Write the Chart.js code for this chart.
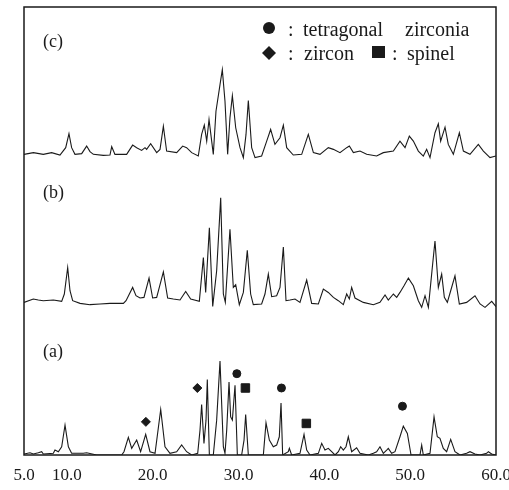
<!DOCTYPE html>
<html>
<head>
<meta charset="utf-8">
<script src="https://cdn.jsdelivr.net/npm/chart.js@4.4.1/dist/chart.umd.min.js"></script>
<style>
  html, body { margin: 0; padding: 0; background: #fff; }
  #wrap { width: 509px; height: 490px; }
</style>
</head>
<body>
<div id="wrap"><canvas id="xrd" width="509" height="490"></canvas></div>
<script>
// x axis (2 theta, deg)
const xTicks = [5, 10, 20, 30, 40, 50, 60];

// vertical shift of each pattern (a, b, c)
const traceNames = ["(a)", "(b)", "(c)"];
const offsets = [0, 152, 302];

// (a)
const thetaA = [5.0, 5.70, 6.09, 6.67, 7.06, 7.25, 8.42, 8.61, 9.00, 9.39, 9.78, 10.17, 10.55, 11.91, 12.30, 13.47,
  16.38, 16.65, 17.16, 17.55, 18.13, 18.59, 19.18, 19.68, 20.27, 20.93, 21.43, 22.01, 22.79, 23.37, 23.95, 24.54,
  25.24, 25.51, 25.70, 25.97, 26.21, 26.36, 26.60, 27.06, 27.45, 27.84, 28.23, 28.42, 28.62, 28.89, 29.08, 29.28,
  29.59, 29.86, 30.36, 30.64, 30.83, 31.14, 32.89, 33.20, 33.59, 34.05, 34.44, 34.75, 34.95, 35.14, 35.80, 35.92,
  36.19, 37.16, 37.63, 37.94, 38.33, 39.30, 39.69, 40.07, 40.46, 40.85, 41.24, 41.63, 41.90, 42.21, 42.52, 42.79,
  43.18, 43.76, 44.15, 45.12, 45.71, 46.09, 46.48, 46.87, 47.26, 47.45, 47.84, 48.23, 48.81, 49.20, 49.67, 50.10,
  51.14, 51.34, 51.53, 52.31, 52.78, 53.16, 53.47, 53.86, 54.25, 54.72, 55.22, 55.81, 56.58, 56.97, 57.55, 58.14,
  58.91, 59.11, 59.50, 60.0];
const intA = [1.0, 2.3, 1.0, 2.3, 3.3, 1.0, 1.7, 5.0, 3.3, 8.3, 30.0, 8.3, 1.7, 1.7, 2.3, 0,
  0, 3.3, 17.7, 6.7, 15.0, 3.3, 20.7, 3.3, 1.7, 45.7, 8.3, 1.7, 3.3, 10.0, 3.3, 0,
  1.7, 25.0, 50.7, 11.7, 35.0, 75.7, 0, 0, 35.0, 94.3, 8.3, 1.7, 25.0, 73.3, 38.3, 35.0,
  70.0, 0, 0, 15.0, 40.7, 0, 0, 32.3, 15.0, 8.3, 10.0, 18.3, 52.3, 0, 3.3, 6.7,
  0, 1.7, 20.7, 5.0, 0, 1.7, 11.7, 5.0, 6.7, 3.3, 0, 3.3, 8.3, 5.0, 8.3, 18.3,
  3.3, 7.3, 1.7, 0, 1.7, 3.3, 8.3, 1.7, 5.0, 6.7, 1.7, 3.3, 18.3, 29.0, 21.7, 0,
  0, 10.0, 0, 1.7, 38.3, 18.3, 16.7, 6.7, 3.3, 15.7, 3.3, 0, 1.7, 3.3, 1.0, 0,
  1.7, 3.3, 1.0, 0];

// (b)
const thetaB = [5.0, 6.09, 6.67, 7.25, 8.42, 9.39, 9.70, 10.09, 10.36, 10.67, 11.53, 12.69, 13.86, 15.02, 16.58, 16.89,
  17.66, 18.05, 18.52, 18.98, 19.57, 19.99, 20.46, 21.24, 21.74, 22.40, 23.18, 23.84, 24.42, 25.43, 25.90, 26.17,
  26.60, 26.99, 27.45, 27.92, 28.23, 28.46, 29.00, 29.39, 29.67, 30.09, 30.56, 31.02, 31.41, 31.72, 32.69, 33.08,
  33.47, 33.86, 34.44, 34.83, 35.22, 35.53, 36.00, 36.58, 37.16, 37.94, 38.52, 39.30, 39.88, 40.46, 41.05, 41.63,
  42.21, 42.60, 42.91, 43.18, 43.57, 44.54, 45.71, 46.48, 47.07, 47.45, 48.04, 48.43, 48.81, 49.28, 49.79, 50.37,
  50.95, 51.34, 51.73, 52.12, 52.54, 52.89, 53.28, 53.67, 53.98, 54.33, 54.72, 55.22, 55.73, 56.58, 57.55, 58.14,
  58.72, 59.50, 60.0];
const intB = [1.3, 4.7, 3.7, 3.0, 3.7, 2.3, 9.7, 36.3, 13.0, 3.0, 0.3, -1.0, -0.3, 0.3, 0.3, 3.0,
  16.3, 8.0, 5.7, 6.3, 25.7, 5.7, 6.3, 32.0, 5.7, 4.7, 3.7, 12.3, 4.7, 2.3, 46.3, 11.3,
  76.3, -2.7, 33.0, 106.3, 9.7, 1.3, 74.7, 16.3, 19.0, -1.0, 11.3, 53.7, 9.7, -1.0, -0.3, 9.7,
  29.7, 7.0, 8.0, 16.3, 57.0, 3.0, 3.7, 4.7, 1.3, 23.7, 0.3, -0.3, 14.7, 11.3, 6.3, 3.0,
  -1.0, 9.7, 4.7, 16.3, 5.7, 1.3, -1.0, 1.3, 8.7, 3.7, 9.7, 6.3, 11.3, 18.0, 25.7, 18.0,
  3.0, -3.7, 8.0, -3.7, 33.0, 63.0, 16.3, 29.7, 6.3, 1.3, 13.0, 28.0, -0.3, 1.3, 8.0, -0.3,
  -3.7, 2.3, -3.0];

// (c)
const thetaC = [5.0, 6.09, 7.25, 8.22, 9.19, 9.86, 10.24, 10.55, 10.94, 11.72, 12.30, 12.69, 13.08, 14.24, 15.02, 15.22,
  15.60, 16.96, 17.66, 18.13, 18.71, 19.10, 19.29, 19.76, 20.46, 20.85, 21.24, 21.62, 22.79, 23.49, 23.95, 24.54,
  25.31, 25.70, 26.01, 26.29, 26.56, 27.06, 27.37, 27.84, 28.11, 28.42, 28.73, 29.00, 29.28, 29.67, 30.17, 30.56,
  30.87, 31.14, 31.53, 31.92, 32.69, 33.28, 33.74, 34.24, 34.83, 35.22, 35.61, 36.38, 37.36, 38.13, 38.72, 39.49,
  40.46, 41.05, 41.82, 42.60, 42.91, 43.38, 44.15, 44.93, 46.09, 46.87, 48.04, 48.81, 49.40, 49.90, 50.37, 50.95,
  51.53, 51.92, 52.31, 52.89, 53.28, 53.55, 54.06, 54.44, 55.03, 55.73, 56.20, 56.97, 57.94, 58.53, 59.30, 60.0];
const intC = [0, 1.7, 0, 1.7, -0.7, 6.7, 20.7, 6.7, 0, 0.7, 8.3, 2.7, 0, -1.0, -0.7, 7.7,
  0, 0, 9.3, 6.7, 4.0, 6.7, 5.0, 10.7, 1.7, 5.0, 28.3, 3.3, 1.7, 8.3, 6.7, 1.7,
  -1.7, 20.0, 29.3, 13.3, 35.0, 0, 43.3, 70.0, 85.0, 53.3, 0, 36.7, 59.0, 26.7, 6.7, -3.3,
  20.0, 54.0, 6.7, -3.3, -1.7, 13.3, 25.0, 10.0, 16.7, 29.3, 6.7, -0.7, 0, 20.0, 1.7, 0,
  6.7, 5.0, 1.7, 6.7, 8.3, 1.7, 3.3, 0, -1.7, 1.7, 3.3, 13.3, 6.7, 18.3, 13.3, 3.3,
  -1.7, 5.0, -3.3, 21.7, 30.7, 13.3, 27.3, 10.0, 0, 21.7, 3.3, 0, 10.0, 3.3, -3.3, -1.7];

// phase markers over pattern (a)
const zirconiaTheta = [29.8, 35.0, 49.1];
const zirconiaLevel = [81.7, 67.3, 49.0];
const zirconTheta = [19.2, 25.2];
const zirconLevel = [33.3, 67.3];
const spinelTheta = [30.8, 37.9];
const spinelLevel = [67.3, 31.7];

const ink = "#1a1a1a";
const serif = "'Liberation Serif', 'Times New Roman', serif";

function toPoints(xs, ys, shift) {
  return xs.map((x, i) => ({ x: x, y: ys[i] + shift }));
}

const patterns = [
  [thetaA, intA],
  [thetaB, intB],
  [thetaC, intC],
];

const datasets = patterns.map(([xs, ys], i) => ({
  label: traceNames[i],
  data: toPoints(xs, ys, offsets[i]),
  borderColor: ink,
  borderWidth: 1.1,
  pointRadius: 0,
  tension: 0,
  fill: false,
}));

datasets.push(
  {
    type: "scatter",
    label: "tetragonal zirconia",
    data: toPoints(zirconiaTheta, zirconiaLevel, offsets[0]),
    pointStyle: "circle",
    pointRadius: 4,
    backgroundColor: ink,
    borderColor: ink,
  },
  {
    type: "scatter",
    label: "zircon",
    data: toPoints(zirconTheta, zirconLevel, offsets[0]),
    pointStyle: "rectRot",
    pointRadius: 4.5,
    backgroundColor: ink,
    borderColor: ink,
  },
  {
    type: "scatter",
    label: "spinel",
    data: toPoints(spinelTheta, spinelLevel, offsets[0]),
    pointStyle: "rect",
    pointRadius: 6,
    backgroundColor: ink,
    borderColor: ink,
  }
);

// frame, (a)/(b)/(c) tags and the phase key
const paperPlugin = {
  id: "paper",
  afterDatasetsDraw(chart) {
    const { ctx, chartArea } = chart;
    const { left, top, right, bottom } = chartArea;
    ctx.save();
    ctx.strokeStyle = ink;
    ctx.lineWidth = 1.5;
    ctx.strokeRect(left, top, right - left, bottom - top);

    ctx.fillStyle = ink;
    ctx.font = "18px " + serif;
    ctx.textBaseline = "middle";
    ctx.textAlign = "left";
    const tagY = [352, 193, 42];
    traceNames.forEach((t, i) => ctx.fillText(t, left + 19, tagY[i]));

    // key
    ctx.font = "20px " + serif;
    ctx.textBaseline = "alphabetic";
    ctx.beginPath();
    ctx.arc(269, 28, 6, 0, Math.PI * 2);
    ctx.fill();
    ctx.fillText(":", 288, 36);
    ctx.fillText("tetragonal", 303, 36);
    ctx.fillText("zirconia", 405, 36);

    ctx.beginPath();
    ctx.moveTo(269, 46);
    ctx.lineTo(276, 53);
    ctx.lineTo(269, 60);
    ctx.lineTo(262, 53);
    ctx.closePath();
    ctx.fill();
    ctx.fillText(":", 288, 60);
    ctx.fillText("zircon", 304, 60);
    ctx.fillRect(372, 46, 13, 12);
    ctx.fillText(":", 392, 60);
    ctx.fillText("spinel", 407, 60);
    ctx.restore();
  },
};

Chart.defaults.animation = false;

new Chart(document.getElementById("xrd"), {
  type: "line",
  data: { datasets: datasets },
  options: {
    responsive: false,
    layout: { padding: { left: 24, right: 13, top: 5, bottom: 0 } },
    plugins: {
      legend: { display: false },
      tooltip: { enabled: false },
    },
    scales: {
      x: {
        type: "linear",
        min: 5,
        max: 60,
        grid: { display: false, drawTicks: false },
        border: { display: false },
        afterBuildTicks: (scale) => {
          scale.ticks = xTicks.map((v) => ({ value: v }));
        },
        // let the end labels hang past the frame like the printed figure
        afterFit: (scale) => {
          scale.paddingLeft = 0;
          scale.paddingRight = 0;
          scale.height = 35;
        },
        ticks: {
          autoSkip: false,
          maxRotation: 0,
          padding: 10,
          color: ink,
          font: { family: serif, size: 17 },
          callback: (v) => Number(v).toFixed(1),
        },
      },
      y: {
        display: false,
        min: 0,
        max: 450,
      },
    },
  },
  plugins: [paperPlugin],
});
</script>
</body>
</html>
